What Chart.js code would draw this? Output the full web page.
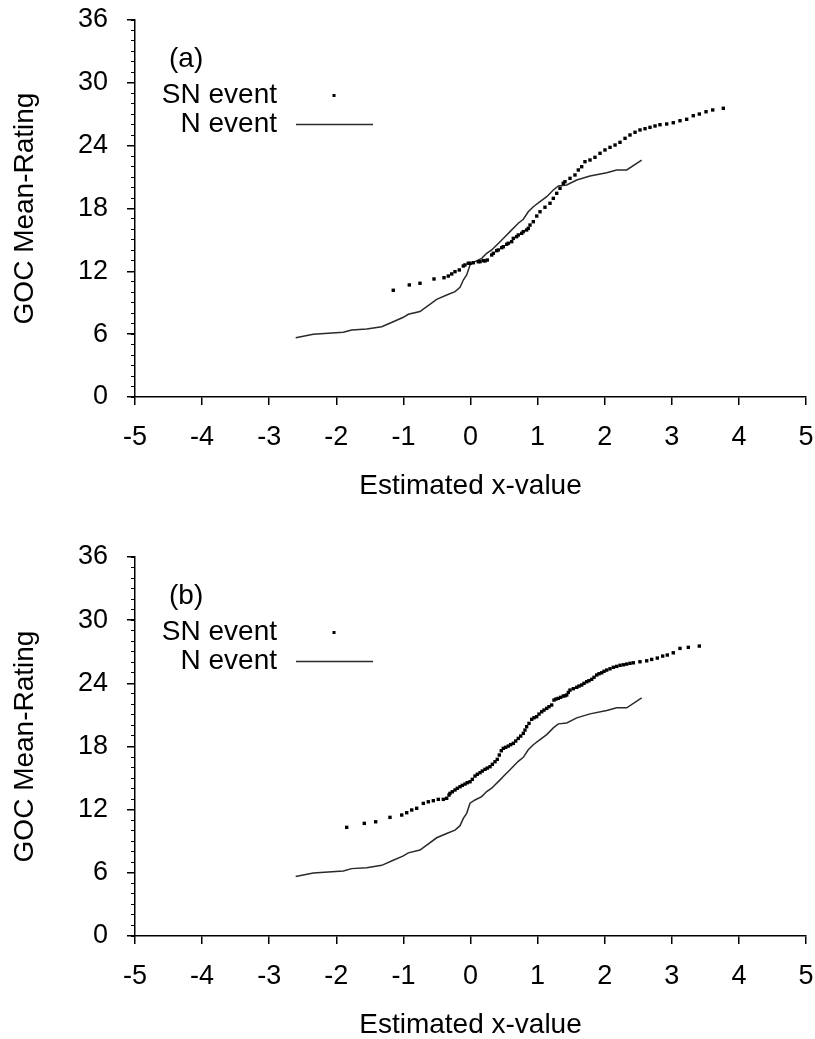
<!DOCTYPE html>
<html>
<head>
<meta charset="utf-8">
<title>GOC Mean-Rating</title>
<script src="https://cdn.jsdelivr.net/npm/chart.js@4/dist/chart.umd.min.js"></script>
<style>
  html, body { margin: 0; padding: 0; background: #fff; overflow: hidden; }
  .panel { position: absolute; left: 0; }
</style>
</head>
<body>
<div class="panel" style="top:0"><canvas id="chart-a" width="815" height="500"></canvas></div>
<div class="panel" style="top:500px"><canvas id="chart-b" width="815" height="539"></canvas></div>
<script>
// N event curve, same in both panels: [x, rating]
const nEvent = [
  [-2.605, 5.66], [-2.343, 5.99], [-1.896, 6.18], [-1.771, 6.40], [-1.547, 6.49],
  [-1.323, 6.71], [-1.151, 7.19], [-1.001, 7.61], [-0.927, 7.90], [-0.753, 8.16],
  [-0.504, 9.33], [-0.355, 9.74], [-0.231, 10.06], [-0.156, 10.48], [-0.107, 11.17],
  [-0.057, 11.65], [-0.007, 12.61], [0.067, 12.92], [0.167, 13.24], [0.241, 13.72],
  [0.316, 14.04], [0.440, 14.83], [0.514, 15.31], [0.589, 15.79], [0.712, 16.59],
  [0.787, 16.97], [0.861, 17.69], [0.936, 18.17], [1.036, 18.65], [1.136, 19.13],
  [1.234, 19.77], [1.309, 20.15], [1.434, 20.24], [1.583, 20.72], [1.781, 21.10],
  [2.030, 21.42], [2.179, 21.68], [2.328, 21.68], [2.551, 22.63]
];

// SN event points, panel (a)
const snEventA = [
  [-1.151, 10.19], [-0.912, 10.70], [-0.753, 10.86], [-0.544, 11.27], [-0.395, 11.39],
  [-0.331, 11.55], [-0.280, 11.75], [-0.231, 11.97], [-0.167, 12.13], [-0.107, 12.51],
  [-0.082, 12.61], [-0.033, 12.77], [-0.007, 12.77], [0.042, 12.82], [0.116, 12.92],
  [0.142, 12.92], [0.191, 13.02], [0.216, 12.99], [0.250, 13.08], [0.316, 13.56],
  [0.340, 13.72], [0.390, 13.97], [0.414, 14.04], [0.465, 14.26], [0.489, 14.35],
  [0.539, 14.58], [0.563, 14.68], [0.614, 14.83], [0.638, 15.15], [0.688, 15.31],
  [0.712, 15.47], [0.763, 15.63], [0.787, 15.79], [0.837, 15.95], [0.861, 16.11],
  [0.887, 16.42], [0.936, 16.74], [0.987, 17.28], [1.036, 17.69], [1.110, 18.12],
  [1.185, 18.50], [1.234, 18.97], [1.285, 19.45], [1.334, 19.93], [1.383, 20.41],
  [1.408, 20.56], [1.483, 20.88], [1.557, 21.20], [1.607, 21.68], [1.657, 21.99],
  [1.706, 22.47], [1.781, 22.63], [1.855, 22.89], [1.930, 23.27], [2.004, 23.59],
  [2.079, 23.84], [2.154, 24.06], [2.228, 24.32], [2.303, 24.70], [2.377, 25.02],
  [2.452, 25.28], [2.526, 25.50], [2.601, 25.62], [2.675, 25.75], [2.750, 25.88],
  [2.824, 26.00], [2.924, 26.07], [3.022, 26.19], [3.122, 26.38], [3.222, 26.52],
  [3.320, 26.86], [3.410, 27.02], [3.510, 27.24], [3.610, 27.41], [3.768, 27.57]
];

// SN event points, panel (b)
const snEventB = [
  [-1.845, 10.32], [-1.583, 10.70], [-1.413, 10.85], [-1.200, 11.27], [-1.025, 11.49],
  [-0.951, 11.71], [-0.876, 11.97], [-0.802, 12.13], [-0.703, 12.60], [-0.629, 12.75],
  [-0.554, 12.85], [-0.480, 12.98], [-0.405, 12.98], [-0.355, 13.08], [-0.320, 13.39],
  [-0.306, 13.55], [-0.271, 13.70], [-0.231, 13.87], [-0.197, 14.03], [-0.156, 14.18],
  [-0.122, 14.31], [-0.082, 14.43], [-0.048, 14.56], [-0.007, 14.65], [0.027, 14.88],
  [0.067, 15.19], [0.101, 15.36], [0.142, 15.51], [0.176, 15.67], [0.216, 15.83],
  [0.250, 15.95], [0.291, 16.08], [0.325, 16.31], [0.365, 16.55], [0.399, 16.78],
  [0.429, 17.19], [0.459, 17.60], [0.489, 17.83], [0.525, 17.92], [0.563, 18.04],
  [0.599, 18.17], [0.638, 18.30], [0.674, 18.52], [0.712, 18.77], [0.748, 18.99],
  [0.787, 19.25], [0.812, 19.56], [0.837, 19.88], [0.872, 20.20], [0.912, 20.58],
  [0.946, 20.73], [0.986, 20.83], [1.021, 21.08], [1.061, 21.30], [1.095, 21.46],
  [1.136, 21.62], [1.170, 21.78], [1.210, 21.94], [1.244, 22.41], [1.274, 22.51],
  [1.308, 22.57], [1.344, 22.67], [1.383, 22.79], [1.408, 22.82], [1.434, 22.89],
  [1.458, 23.14], [1.483, 23.36], [1.532, 23.49], [1.583, 23.62], [1.617, 23.74],
  [1.657, 23.84], [1.692, 24.00], [1.732, 24.15], [1.766, 24.25], [1.806, 24.38],
  [1.841, 24.57], [1.881, 24.79], [1.915, 24.91], [1.955, 25.00], [1.990, 25.14],
  [2.030, 25.26], [2.079, 25.38], [2.128, 25.52], [2.179, 25.61], [2.228, 25.71],
  [2.277, 25.76], [2.328, 25.83], [2.377, 25.90], [2.426, 25.95], [2.526, 26.05],
  [2.626, 26.14], [2.700, 26.27], [2.784, 26.40], [2.864, 26.59], [2.933, 26.69],
  [3.022, 26.90], [3.122, 27.32], [3.246, 27.42], [3.410, 27.54]
];

const seriesNames = ['SN event', 'N event'];
const xAxisTitle = 'Estimated x-value';
const yAxisTitle = 'GOC Mean-Rating';
const xRange = [-5, 5];
const yRange = [0, 36];

const FONT = '"Liberation Sans", Arial, Helvetica, sans-serif';

// draws the panel tag and the little legend in the upper left corner
const cornerLegend = {
    id: 'cornerLegend',
    afterDraw(chart, args, opts) {
        const { ctx, chartArea } = chart;
        const sn = chart.data.datasets[0];
        const n = chart.data.datasets[1];
        const left = chartArea.left;
        const top = chartArea.top;

        ctx.save();
        ctx.fillStyle = '#000';
        ctx.font = '28px ' + FONT;
        ctx.textBaseline = 'middle';
        ctx.textAlign = 'left';
        ctx.fillText(opts.panel, left + 34, top + 39.5);

        ctx.textAlign = 'right';
        ctx.fillText(sn.label, left + 142, top + 75.5);
        ctx.fillText(n.label, left + 142, top + 104.5);

        ctx.fillStyle = sn.pointBackgroundColor;
        ctx.fillRect(left + 197.5, top + 74, 3, 3);

        ctx.strokeStyle = n.borderColor;
        ctx.lineWidth = n.borderWidth;
        ctx.beginPath();
        ctx.moveTo(left + 161, top + 104.5);
        ctx.lineTo(left + 238, top + 104.5);
        ctx.stroke();
        ctx.restore();
    }
};

function makePanel(canvasId, panel, snData, topPad) {
    return new Chart(document.getElementById(canvasId), {
        type: 'scatter',
        data: {
            datasets: [
                {
                    label: seriesNames[0],
                    data: snData.map(p => ({ x: p[0], y: p[1] })),
                    showLine: false,
                    pointStyle: 'rect',
                    pointRadius: 2.4,
                    pointBorderWidth: 0,
                    pointBackgroundColor: '#000',
                    order: 0
                },
                {
                    label: seriesNames[1],
                    data: nEvent.map(p => ({ x: p[0], y: p[1] })),
                    showLine: true,
                    pointRadius: 0,
                    borderColor: '#2a2a2a',
                    borderWidth: 1.5,
                    tension: 0,
                    fill: false,
                    order: 1
                }
            ]
        },
        options: {
            responsive: false,
            animation: false,
            devicePixelRatio: 1,
            layout: { padding: { top: topPad, right: 9, bottom: 0, left: 0 } },
            plugins: {
                legend: { display: false },
                tooltip: { enabled: false },
                cornerLegend: { panel: panel }
            },
            scales: {
                x: {
                    type: 'linear',
                    min: xRange[0],
                    max: xRange[1],
                    ticks: { stepSize: 1, color: '#000', padding: 16, font: { family: FONT, size: 27 } },
                    grid: { drawOnChartArea: false, drawTicks: true, tickLength: 8, color: '#000', lineWidth: 1.5 },
                    border: { display: true, color: '#000', width: 1.5 },
                    title: {
                        display: true,
                        text: xAxisTitle,
                        color: '#000',
                        font: { family: FONT, size: 28, lineHeight: 1 },
                        padding: { top: 0, bottom: 0 }
                    },
                    afterFit: scale => {
                        scale.height = 103;
                        scale.paddingLeft = 0;
                        scale.paddingRight = 0;
                    }
                },
                y: {
                    type: 'linear',
                    position: 'left',
                    weight: 1,
                    min: yRange[0],
                    max: yRange[1],
                    ticks: { stepSize: 6, color: '#000', padding: 19, font: { family: FONT, size: 27 } },
                    grid: { drawOnChartArea: false, drawTicks: true, tickLength: 8, color: '#000', lineWidth: 1.5 },
                    border: { display: true, color: '#000', width: 1.5 },
                    title: {
                        display: true,
                        text: yAxisTitle,
                        color: '#000',
                        font: { family: FONT, size: 28, lineHeight: 1 },
                        padding: { top: 11.5, bottom: 0 }
                    },
                    afterFit: scale => {
                        scale.width = 135;
                        scale.paddingTop = 0;
                        scale.paddingBottom = 0;
                    }
                },
                // minor ticks every 1 unit, no labels
                yMinor: {
                    type: 'linear',
                    position: 'left',
                    weight: 0,
                    min: yRange[0],
                    max: yRange[1],
                    ticks: { stepSize: 1, display: false },
                    grid: { drawOnChartArea: false, drawTicks: true, tickLength: 4, color: '#000', lineWidth: 1 },
                    border: { display: false },
                    afterFit: scale => {
                        scale.width = 0;
                        scale.paddingTop = 0;
                        scale.paddingBottom = 0;
                    }
                }
            }
        },
        plugins: [cornerLegend]
    });
}

makePanel('chart-a', '(a)', snEventA, 20);
makePanel('chart-b', '(b)', snEventB, 57);
</script>
</body>
</html>
